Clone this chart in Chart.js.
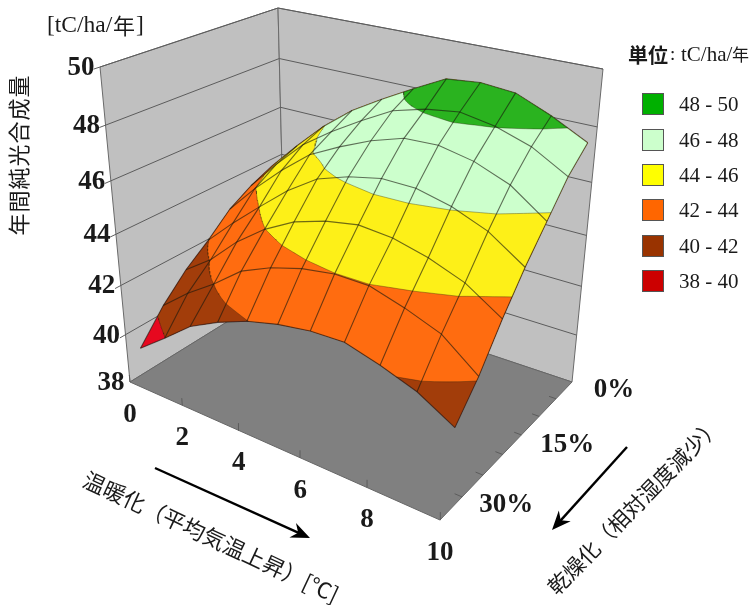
<!DOCTYPE html>
<html lang="ja">
<head>
<meta charset="utf-8">
<title>年間純光合成量</title>
<script src="https://cdn.jsdelivr.net/npm/chart.js@4/dist/chart.umd.min.js"></script>
<style>
    html, body { margin: 0; padding: 0; background: #fff; }
    canvas { display: block; }
</style>
</head>
<body>
<canvas id="grafica" width="752" height="605"></canvas>
<script>
// warming [deg C]
const temps = [0, 1, 2, 3, 4, 5, 6, 7, 8, 9, 10];
// drying [% less relative humidity]
const drying = [0, 5, 10, 15, 20, 25, 30];
// net photosynthesis [tC/ha/year], one list per drying level
const npp0  = [43.70, 44.86, 45.95, 46.85, 47.55, 48.20, 48.82, 48.94, 48.83, 48.30, 47.64];
const npp5  = [43.31, 44.51, 45.60, 46.40, 47.10, 47.75, 48.08, 48.25, 48.03, 47.61, 46.88];
const npp10 = [42.78, 43.96, 45.00, 45.92, 46.52, 47.04, 47.42, 47.47, 47.21, 46.71, 45.79];
const npp15 = [41.96, 43.03, 44.02, 44.98, 45.75, 46.15, 46.41, 46.39, 46.09, 45.58, 44.71];
const npp20 = [41.24, 42.05, 43.13, 43.98, 44.62, 45.00, 45.22, 45.12, 44.80, 44.32, 43.48];
const npp25 = [40.30, 41.22, 42.00, 42.90, 43.42, 43.78, 43.98, 43.97, 43.60, 43.12, 42.10];
const npp30 = [39.11, 39.98, 40.90, 41.50, 41.98, 42.30, 42.50, 42.55, 42.20, 41.75, 41.00];
const npp = [npp0, npp5, npp10, npp15, npp20, npp25, npp30];

const zTicks = [38, 40, 42, 44, 46, 48, 50];
const tempTicks = [0, 2, 4, 6, 8, 10];
const dryTicks = ["0%", "15%", "30%"];

const bandLevels = [38, 40, 42, 44, 46, 48];
const bandColors = ["#e6081f", "#a23d0a", "#ff6c10", "#fdf018", "#ccffcc", "#2ab31f"];
const legendLabels = ["48 - 50", "46 - 48", "44 - 46", "42 - 44", "40 - 42", "38 - 40"];
const legendColors = ["#00b000", "#ccffcc", "#ffff00", "#ff6600", "#993300", "#cc0000"];

// box corners on screen: [temp end][drying end][z end]
const box = [
    [[[285, 286], [278, 8]], [[130, 382], [100, 67]]],
    [[[572, 382], [603, 69]], [[440, 520], [455, 153]]]
];
const persp = [-0.1614, -0.1429, -0.1];

// s and u run 0-1 across the box floor
function project(s, u, z) {
    const v = (z - 38) / 12;
    const weight = (a, b, c) => 1 + persp[0] * a + persp[1] * b + persp[2] * c;
    let x = 0, y = 0, w = 0;
    for (let a = 0; a < 2; a++) for (let b = 0; b < 2; b++) for (let c = 0; c < 2; c++) {
        const l = (a ? s : 1 - s) * (b ? u : 1 - u) * (c ? v : 1 - v) * weight(a, b, c);
        x += l * box[a][b][c][0];
        y += l * box[a][b][c][1];
        w += l;
    }
    return { x: x / w, y: y / w };
}

// drying levels sit in the middle of their depth bands
const dryPos = d => (d / 5 + 0.5) / drying.length;
const surf = (t, d, z) => project(t / 10, dryPos(d), z);

const GAP = { x: NaN, y: NaN };
const datasets = [];

function addPoly(points, color, stroke) {
    datasets.push({ data: points, polyFill: color, polyStroke: stroke, pointRadius: 0, showLine: false });
}
function addLine(points, color, width) {
    datasets.push({ data: points, showLine: true, pointRadius: 0, borderColor: color, borderWidth: width, fill: false });
}

// walls and floor
addPoly([project(0, 1, 38), project(0, 0, 38), project(0, 0, 50), project(0, 1, 50)], "#c0c0c0", "#6a6a6a");
addPoly([project(0, 0, 38), project(1, 0, 38), project(1, 0, 50), project(0, 0, 50)], "#c0c0c0", "#6a6a6a");
addPoly([project(0, 0, 38), project(1, 0, 38), project(1, 1, 38), project(0, 1, 38)], "#808080", "#666666");

// wall grid and tick marks
const wallLines = [];
zTicks.forEach(z => {
    if (z > 38) wallLines.push(project(0, 1.03, z), project(0, 0, z), project(1, 0, z), GAP);
});
addLine(wallLines, "#5c5c5c", 1);
const floorTicks = [];
tempTicks.forEach(t => floorTicks.push(project(t / 10, 1, 38), project(t / 10, 1, 38.3), GAP));
for (let k = 1; k < drying.length; k++) {
    floorTicks.push(project(1, k / drying.length, 38), project(0.98, k / drying.length, 38), GAP);
}
addLine(floorTicks, "#5c5c5c", 1);

// surface value inside a grid cell
function cellValue(i, j, a, b) {
    return (1 - a) * (1 - b) * npp[j][i] + a * (1 - b) * npp[j][i + 1] +
        (1 - a) * b * npp[j + 1][i] + a * b * npp[j + 1][i + 1];
}

// one filled path per level, each painted over the lower one, so no seams
const SUB = 6;
const contour = [];
bandLevels.forEach((level, n) => {
    const path = [];
    for (let j = 0; j < drying.length - 1; j++) {
        for (let i = 0; i < temps.length - 1; i++) {
            const dT = temps[i + 1] - temps[i], dD = drying[j + 1] - drying[j];
            for (let p = 0; p < SUB; p++) for (let q = 0; q < SUB; q++) {
                const quad = [[p, q], [p + 1, q], [p + 1, q + 1], [p, q + 1]].map(c => {
                    const a = c[0] / SUB, b = c[1] / SUB;
                    return { t: temps[i] + a * dT, d: drying[j] + b * dD, z: cellValue(i, j, a, b) };
                });
                const kept = [], cut = [];
                quad.forEach((c, k) => {
                    const e = quad[(k + 1) % 4];
                    if (c.z >= level) kept.push(c);
                    if ((c.z >= level) !== (e.z >= level)) {
                        const f = (level - c.z) / (e.z - c.z);
                        const m = { t: c.t + f * (e.t - c.t), d: c.d + f * (e.d - c.d), z: level };
                        kept.push(m);
                        cut.push(m);
                    }
                });
                if (kept.length > 2) {
                    kept.forEach(c => path.push(surf(c.t, c.d, c.z)));
                    path.push(GAP);
                }
                if (cut.length == 2 && n > 0) {
                    contour.push(surf(cut[0].t, cut[0].d, level), surf(cut[1].t, cut[1].d, level), GAP);
                }
            }
        }
    }
    addPoly(path, bandColors[n], null);
});
addLine(contour, "rgba(40,30,10,0.45)", 0.8);

// surface mesh
npp.forEach((row, j) => {
    addLine(row.map((z, i) => surf(temps[i], drying[j], z)), "rgba(25,25,15,0.62)", 1.1);
});
temps.forEach((t, i) => {
    addLine(npp.map((row, j) => surf(t, drying[j], row[i])), "rgba(25,25,15,0.62)", 1.1);
});

datasets.forEach((ds, i) => { ds.order = datasets.length - i; });

const polyPlugin = {
    id: "polyPlugin",
    beforeDatasetDraw(chart, args) {
        const ds = chart.data.datasets[args.index];
        if (!ds.polyFill) return;
        const ctx = chart.ctx;
        ctx.save();
        ctx.beginPath();
        let open = false;
        args.meta.data.forEach(pt => {
            if (pt.skip) {
                ctx.closePath();
                open = false;
            } else if (!open) {
                ctx.moveTo(pt.x, pt.y);
                open = true;
            } else {
                ctx.lineTo(pt.x, pt.y);
            }
        });
        if (open) ctx.closePath();
        ctx.fillStyle = ds.polyFill;
        ctx.fill();
        if (ds.polyStroke) {
            ctx.strokeStyle = ds.polyStroke;
            ctx.lineWidth = 1;
            ctx.stroke();
        }
        ctx.restore();
        return false;
    }
};

const SERIF = '"Liberation Serif", serif';
const CJK = '"Noto Sans CJK JP", sans-serif';

function text(ctx, str, x, y, font, angle, align, spacing) {
    ctx.save();
    ctx.translate(x, y);
    ctx.rotate((angle || 0) * Math.PI / 180);
    ctx.font = font;
    ctx.fillStyle = "#1a1a1a";
    ctx.textAlign = align || "center";
    ctx.textBaseline = "middle";
    if (spacing) ctx.letterSpacing = spacing;
    ctx.fillText(str, 0, 0);
    ctx.restore();
}

function arrow(ctx, x0, y0, x1, y1) {
    const a = Math.atan2(y1 - y0, x1 - x0);
    ctx.save();
    ctx.translate(x1, y1);
    ctx.rotate(a);
    const len = Math.hypot(x1 - x0, y1 - y0);
    ctx.fillStyle = "#000";
    ctx.strokeStyle = "#000";
    ctx.lineWidth = 2.4;
    ctx.beginPath();
    ctx.moveTo(-len, 0);
    ctx.lineTo(-10, 0);
    ctx.stroke();
    ctx.beginPath();
    ctx.moveTo(0, 0);
    ctx.lineTo(-19, -8);
    ctx.lineTo(-13, 0);
    ctx.lineTo(-19, 8);
    ctx.closePath();
    ctx.fill();
    ctx.restore();
}

const labelPlugin = {
    id: "labelPlugin",
    afterDraw(chart) {
        const ctx = chart.ctx;
        const sx = chart.scales.x, sy = chart.scales.y;
        const bold = "bold 27px " + SERIF;

        zTicks.forEach(z => {
            const p = project(0, 1, z);
            text(ctx, String(z), sx.getPixelForValue(p.x) - 19, sy.getPixelForValue(p.y) + 1, bold);
        });
        tempTicks.forEach(t => {
            const p = project(t / 10, 1, 38);
            text(ctx, String(t), sx.getPixelForValue(p.x), sy.getPixelForValue(p.y) + 33, bold);
        });
        const dryAt = [0, 15, 30], dryOff = [[50, 0], [55, 0], [55, -3]];
        dryTicks.forEach((lab, i) => {
            const p = project(1, dryPos(dryAt[i]), 38);
            text(ctx, lab, sx.getPixelForValue(p.x) + dryOff[i][0], sy.getPixelForValue(p.y) + dryOff[i][1], bold);
        });

        text(ctx, "[tC/ha/", 47, 26, "23.5px " + SERIF, 0, "left");
        text(ctx, "年", 113, 26, "22px " + CJK, 0, "left");
        text(ctx, "]", 136, 26, "23.5px " + SERIF, 0, "left");
        text(ctx, "年間純光合成量", 19, 155, "22px " + CJK, -90, "center", "1px");
        text(ctx, "温暖化（平均気温上昇）[℃]", 211, 537, "22px " + CJK, 25);
        text(ctx, "乾燥化（相対湿度減少）", 634, 506, "21.5px " + CJK, -45.7);

        arrow(ctx, 155, 468, 310, 538);
        arrow(ctx, 627, 447, 552, 530);

        text(ctx, "単位", 628, 55, "bold 20px " + CJK, 0, "left");
        text(ctx, ":", 670, 55, "19px " + SERIF, 0, "left");
        text(ctx, "tC/ha/", 681, 55, "21px " + SERIF, 0, "left");
        text(ctx, "年", 732, 55, "17px " + CJK, 0, "left");

        const legendY = [93, 129, 164, 199, 235, 270];
        legendLabels.forEach((lab, i) => {
            ctx.fillStyle = legendColors[i];
            ctx.strokeStyle = "#555";
            ctx.lineWidth = 1;
            ctx.fillRect(642, legendY[i], 22, 22);
            ctx.strokeRect(642.5, legendY[i] + 0.5, 21, 21);
            text(ctx, lab, 679, legendY[i] + 12, "21px " + SERIF, 0, "left");
        });
    }
};

new Chart(document.getElementById("grafica").getContext("2d"), {
    type: "scatter",
    data: { datasets: datasets },
    options: {
        responsive: false,
        animation: false,
        layout: { padding: 0 },
        scales: {
            x: { type: "linear", min: 0, max: 752, display: false },
            y: { type: "linear", min: 0, max: 605, reverse: true, display: false }
        },
        plugins: { legend: { display: false }, tooltip: { enabled: false } }
    },
    plugins: [polyPlugin, labelPlugin]
});
</script>
</body>
</html>
